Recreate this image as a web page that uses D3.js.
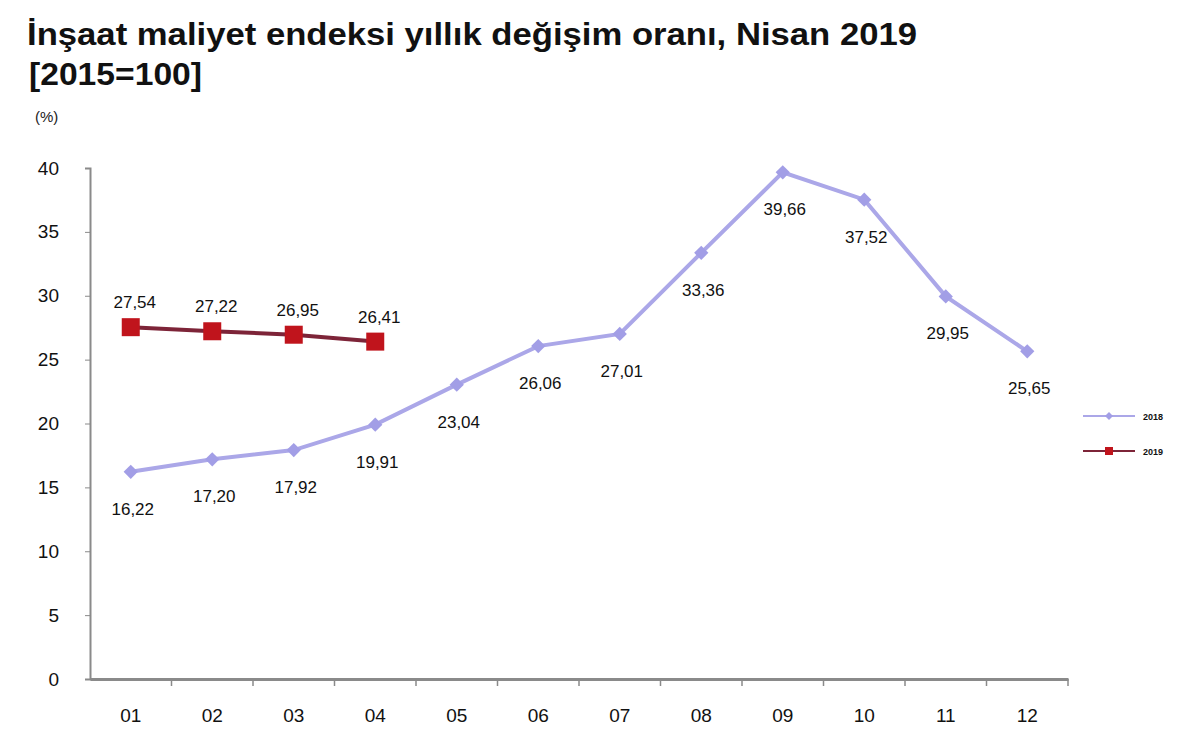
<!DOCTYPE html>
<html>
<head>
<meta charset="utf-8">
<script src="https://cdn.jsdelivr.net/npm/d3@7"></script>
<style>
  body { margin: 0; background: #fff; }
  text { font-family: "Liberation Sans", Arial, sans-serif; }
</style>
</head>
<body>
<svg id="chart" width="1200" height="756"></svg>
<script>
const months = ['01', '02', '03', '04', '05', '06', '07', '08', '09', '10', '11', '12'];
const values2018 = [16.22, 17.20, 17.92, 19.91, 23.04, 26.06, 27.01, 33.36, 39.66, 37.52, 29.95, 25.65];
const values2019 = [27.54, 27.22, 26.95, 26.41];
const yTicks = [0, 5, 10, 15, 20, 25, 30, 35, 40];
const seriesNames = ['2018', '2019'];

const svg = d3.select('#chart');
const margin = {left: 90, right: 132, top: 168, bottom: 77};
const width = 1200 - margin.left - margin.right;
const height = 756 - margin.top - margin.bottom;

const fmt = v => v.toFixed(2).replace('.', ',');

// title
svg.append('text')
    .attr('x', 27).attr('y', 45)
    .attr('textLength', 890).attr('lengthAdjust', 'spacingAndGlyphs')
    .style('font-size', '31px').style('font-weight', 'bold').attr('fill', '#111')
    .text('İnşaat maliyet endeksi yıllık değişim oranı, Nisan 2019');
svg.append('text')
    .attr('x', 29).attr('y', 85)
    .attr('textLength', 173).attr('lengthAdjust', 'spacingAndGlyphs')
    .style('font-size', '31px').style('font-weight', 'bold').attr('fill', '#111')
    .text('[2015=100]');
svg.append('text')
    .attr('x', 35).attr('y', 122)
    .style('font-size', '15px').attr('fill', '#222')
    .text('(%)');

const g = svg.append('g').attr('transform', `translate(${margin.left},${margin.top})`);

const x = d3.scaleBand().domain(months).range([0, width]);
const y = d3.scaleLinear().domain([0, 40]).range([height, 0]);
const cx = m => x(m) + x.bandwidth() / 2;

// y axis
const yAxis = g.append('g')
    .call(d3.axisLeft(y).tickValues(yTicks).tickSize(5).tickPadding(26));
yAxis.select('.domain').attr('stroke', '#8a8a8a').attr('stroke-width', 2);
yAxis.selectAll('.tick line').attr('stroke', '#8a8a8a');
yAxis.selectAll('text').style('font-size', '19px').attr('fill', '#111');

// x axis with ticks at band boundaries
const xAxis = g.append('g').attr('transform', `translate(0,${height})`)
    .call(d3.axisBottom(x).tickSize(0).tickPadding(30));
xAxis.select('.domain').attr('stroke', '#8a8a8a').attr('stroke-width', 3);
xAxis.selectAll('text').style('font-size', '19px').attr('fill', '#111');
xAxis.selectAll('.bound')
    .data(months)
    .join('line')
    .attr('x1', m => x(m) + x.bandwidth()).attr('x2', m => x(m) + x.bandwidth())
    .attr('y1', 0).attr('y2', 7)
    .attr('stroke', '#8a8a8a').attr('stroke-width', 1.5);

const line = d3.line().x(d => cx(d.m)).y(d => y(d.v));
const data2018 = values2018.map((v, i) => ({m: months[i], v}));
const data2019 = values2019.map((v, i) => ({m: months[i], v}));

// 2018 series
g.append('path').datum(data2018)
    .attr('d', line).attr('fill', 'none')
    .attr('stroke', '#aba7e8').attr('stroke-width', 4);
g.selectAll('.m18').data(data2018).join('path')
    .attr('transform', d => `translate(${cx(d.m)},${y(d.v)})`)
    .attr('d', d3.symbol(d3.symbolDiamond2, 130))
    .attr('fill', '#a29ee6');
g.selectAll('.l18').data(data2018).join('text')
    .attr('x', d => cx(d.m) + 2).attr('y', d => y(d.v) + 43)
    .attr('text-anchor', 'middle')
    .style('font-size', '17px').attr('fill', '#111')
    .text(d => fmt(d.v));

// 2019 series
g.append('path').datum(data2019)
    .attr('d', line).attr('fill', 'none')
    .attr('stroke', '#7d2438').attr('stroke-width', 4);
g.selectAll('.m19').data(data2019).join('rect')
    .attr('x', d => cx(d.m) - 9).attr('y', d => y(d.v) - 9)
    .attr('width', 18).attr('height', 18)
    .attr('fill', '#c0141c');
g.selectAll('.l19').data(data2019).join('text')
    .attr('x', d => cx(d.m) + 4).attr('y', d => y(d.v) - 19)
    .attr('text-anchor', 'middle')
    .style('font-size', '17px').attr('fill', '#111')
    .text(d => fmt(d.v));

// legend
const legend = svg.append('g').attr('transform', 'translate(1083,416)');
seriesNames.forEach((name, i) => {
    const row = legend.append('g').attr('transform', `translate(0,${i * 35})`);
    row.append('line').attr('x1', 0).attr('x2', 52).attr('y1', 0).attr('y2', 0)
        .attr('stroke', i === 0 ? '#aba7e8' : '#7d2438').attr('stroke-width', 2);
    if (i === 0) {
        row.append('path').attr('transform', 'translate(26,0)')
            .attr('d', d3.symbol(d3.symbolDiamond2, 40)).attr('fill', '#a29ee6');
    } else {
        row.append('rect').attr('x', 22).attr('y', -4).attr('width', 8).attr('height', 8)
            .attr('fill', '#c0141c');
    }
    row.append('text').attr('x', 60).attr('y', 4)
        .style('font-size', '9px').style('font-weight', 'bold').attr('fill', '#111')
        .text(name);
});
</script>
</body>
</html>
